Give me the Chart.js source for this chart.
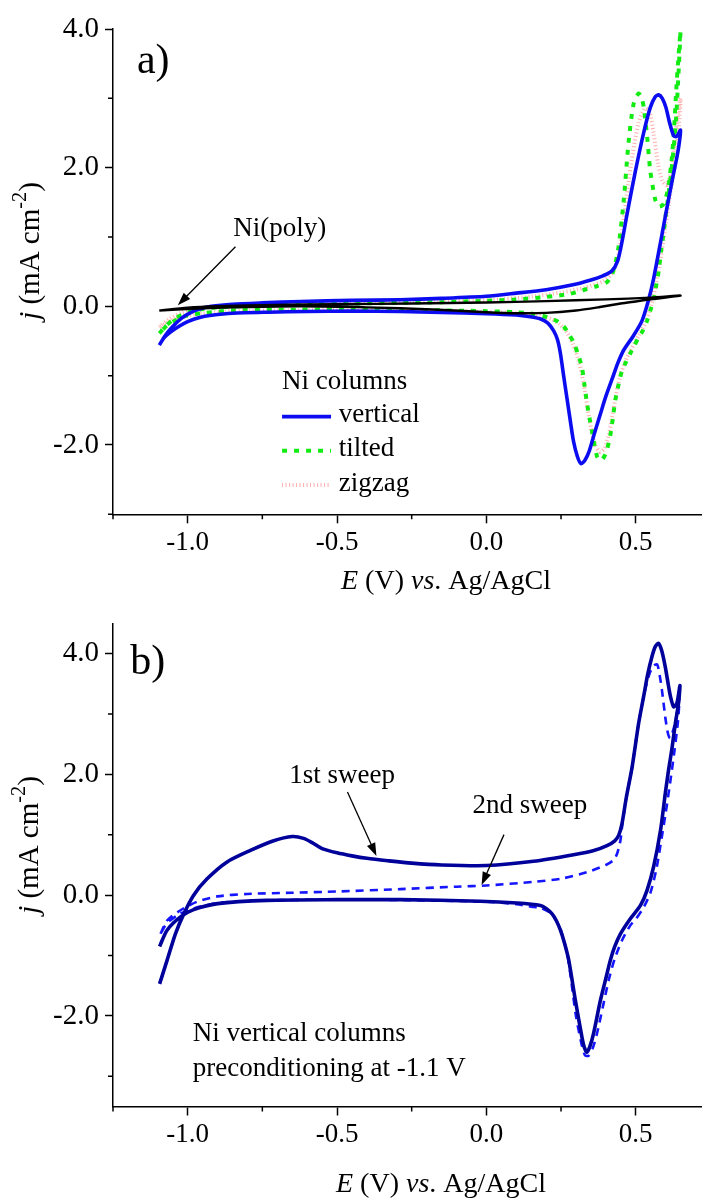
<!DOCTYPE html>
<html>
<head>
<meta charset="utf-8">
<script src="https://cdn.jsdelivr.net/npm/chart.js@4.4.1/dist/chart.umd.min.js"></script>
<style>
  html, body { margin: 0; padding: 0; background: #fff; }
  #wrap { position: relative; width: 702px; height: 1198px; }
  .panel { position: absolute; left: 0; width: 702px; }
  #panelA { top: 0; height: 600px; }
  #panelB { top: 600px; height: 598px; }
</style>
</head>
<body>
<div id="wrap">
  <div class="panel" id="panelA"><canvas id="chartA" width="702" height="600"></canvas></div>
  <div class="panel" id="panelB"><canvas id="chartB" width="702" height="598"></canvas></div>
</div>
<script>
const FONT = "'Liberation Serif', 'Times New Roman', serif";

// axis ticks (shared x, same y ticks on both panels)
const xTicks = [-1.25, -1.0, -0.75, -0.5, -0.25, 0.0, 0.25, 0.5];
const xTickLabels = ['', '-1.0', '', '-0.5', '', '0.0', '', '0.5'];
const yTicks = [-3, -2, -1, 0, 1, 2, 3, 4];
const yTickLabels = ['', '-2.0', '', '0.0', '', '2.0', '', '4.0'];

// ---- panel a) Ni columns and Ni(poly), E in V, j in mA cm-2 ----
const polyE = [-1.095,-1.0,-0.9,-0.7,-0.5,-0.25,0.0,0.2,0.4,0.55,0.65,
  0.6,0.55,0.5,0.45,0.38,0.3,0.2,0.1,0.0,-0.18,-0.4,-0.62,-0.8,-0.95,-1.095];
const polyJ = [-0.06,-0.02,0.0,0.02,0.03,0.04,0.055,0.075,0.1,0.125,0.155,
  0.125,0.1,0.07,0.04,-0.01,-0.06,-0.095,-0.1,-0.085,-0.045,-0.015,0.0,-0.01,-0.03,-0.06];

const vertE = [-1.095,-1.075,-1.05,-1.02,-0.99,-0.96,-0.92,-0.85,-0.75,-0.62,
  -0.45,-0.29,-0.15,0.0,0.1,0.2,0.29,0.35,0.39,0.42,
  0.44,0.455,0.471,0.499,0.527,0.549,0.565,0.577,0.589,0.601,
  0.614,0.627,0.637,0.650,
  0.646,0.638,0.627,0.605,0.583,0.560,0.543,0.521,0.493,0.46,
  0.44,0.426,0.40,0.382,0.36,0.345,0.33,0.317,0.305,0.292,
  0.28,0.270,0.258,0.248,0.238,0.225,0.205,0.18,0.147,0.1,
  0.0,-0.15,-0.29,-0.45,-0.6,-0.73,-0.85,-0.92,-0.96,-1.0,
  -1.03,-1.06,-1.08,-1.095];
const vertJ = [-0.56,-0.42,-0.29,-0.17,-0.09,-0.04,0.0,0.03,0.05,0.07,
  0.085,0.095,0.115,0.145,0.19,0.24,0.31,0.38,0.44,0.51,
  0.66,0.95,1.33,1.95,2.51,2.87,3.02,3.05,3.0,2.87,
  2.64,2.46,2.45,2.54,
  2.36,2.15,1.92,1.43,0.92,0.40,0.09,-0.21,-0.42,-0.63,
  -0.82,-0.99,-1.30,-1.55,-1.86,-2.08,-2.22,-2.27,-2.17,-1.95,
  -1.62,-1.33,-0.98,-0.68,-0.48,-0.35,-0.24,-0.18,-0.15,-0.125,
  -0.105,-0.09,-0.075,-0.07,-0.075,-0.085,-0.10,-0.13,-0.16,-0.22,
  -0.29,-0.38,-0.46,-0.56];

const tiltE = [-1.095,-1.07,-1.04,-1.0,-0.95,-0.88,-0.75,-0.6,-0.45,-0.29,
  -0.15,0.0,0.1,0.2,0.28,0.337,0.37,0.404,0.42,0.432,
  0.443,0.460,0.476,0.493,0.510,0.52,0.527,0.538,0.549,0.566,
  0.578,0.590,0.60,0.610,0.620,0.627,0.638,0.650,
  0.645,0.635,0.622,0.610,0.600,0.594,0.585,0.577,0.568,0.560,
  0.549,0.538,0.524,0.510,0.496,0.482,0.468,0.454,0.443,0.432,
  0.424,0.415,0.405,0.398,0.388,0.380,0.371,0.362,0.354,0.345,
  0.337,0.328,0.320,0.306,0.292,0.275,0.259,0.240,0.225,0.19,
  0.158,0.1,0.0,-0.2,-0.45,-0.7,-0.85,-0.95,-1.0,-1.04,
  -1.07,-1.095];
const tiltJ = [-0.39,-0.27,-0.17,-0.09,-0.04,-0.01,0.015,0.03,0.04,0.05,
  0.06,0.08,0.1,0.135,0.18,0.25,0.29,0.35,0.45,0.62,
  0.87,1.53,2.36,2.92,3.07,3.0,2.87,2.46,1.95,1.53,
  1.44,1.46,1.55,1.74,2.1,2.46,3.28,3.97,
  3.5,2.7,2.05,1.62,1.30,1.07,0.80,0.51,0.28,0.09,
  -0.06,-0.21,-0.35,-0.45,-0.56,-0.68,-0.80,-0.93,-1.12,-1.35,
  -1.60,-1.86,-2.05,-2.14,-2.21,-2.22,-2.17,-2.0,-1.81,-1.60,
  -1.40,-1.12,-0.88,-0.68,-0.52,-0.39,-0.29,-0.22,-0.19,-0.14,
  -0.11,-0.085,-0.07,-0.055,-0.045,-0.05,-0.06,-0.10,-0.13,-0.2,
  -0.28,-0.39];

const zigE = [-1.095,-1.06,-1.02,-0.97,-0.9,-0.75,-0.5,-0.25,0.0,0.15,
  0.25,0.33,0.39,0.425,0.44,0.455,0.47,0.49,0.51,0.53,
  0.545,0.56,0.575,0.59,0.605,0.62,0.635,0.650,
  0.645,0.632,0.615,0.598,0.58,0.565,0.552,0.535,0.51,0.485,
  0.46,0.44,0.425,0.41,0.395,0.38,0.365,0.35,0.338,0.325,
  0.31,0.29,0.27,0.245,0.22,0.18,0.1,0.0,-0.3,-0.6,
  -0.85,-0.95,-1.02,-1.06,-1.095];
const zigJ = [-0.30,-0.18,-0.09,-0.03,0.0,0.025,0.045,0.06,0.09,0.14,
  0.2,0.27,0.36,0.5,0.7,1.1,1.6,2.2,2.65,2.85,
  2.82,2.5,2.05,1.8,1.75,2.0,2.55,3.0,
  2.6,2.1,1.6,1.1,0.6,0.25,0.02,-0.22,-0.42,-0.62,
  -0.85,-1.15,-1.5,-1.85,-2.05,-2.1,-2.0,-1.75,-1.45,-1.1,
  -0.8,-0.55,-0.38,-0.26,-0.19,-0.14,-0.1,-0.08,-0.06,-0.055,
  -0.07,-0.10,-0.16,-0.22,-0.30];

// ---- panel b) vertical columns, preconditioning at -1.1 V ----
const firstE = [-1.094,-1.069,-1.041,-1.013,-0.98,-0.935,-0.868,-0.79,-0.712,-0.65,
  -0.612,-0.58,-0.55,-0.5,-0.45,-0.4,-0.33,-0.25,-0.15,0.0,
  0.158,0.292,0.36,0.404,0.43,0.443,0.454,0.468,0.488,0.51,
  0.527,0.54,0.555,0.566,0.576,0.587,0.599,0.608,0.616,0.627,
  0.638,0.648,
  0.644,0.633,0.622,0.610,0.600,0.583,0.560,0.538,0.516,0.482,
  0.449,0.43,0.415,0.40,0.382,0.359,0.347,0.337,0.328,0.320,
  0.298,0.276,0.262,0.248,0.234,0.220,0.2,0.181,0.103,-0.02,
  -0.288,-0.5,-0.734,-0.90,-0.98,-1.024,-1.069,-1.094];
const firstJ = [-1.47,-1.08,-0.64,-0.31,0.0,0.27,0.55,0.74,0.90,0.97,
  0.94,0.86,0.77,0.70,0.65,0.61,0.57,0.53,0.50,0.49,
  0.56,0.67,0.74,0.82,0.9,0.99,1.18,1.6,2.12,2.85,
  3.3,3.65,3.96,4.12,4.17,4.05,3.78,3.52,3.3,3.12,
  3.18,3.47,
  3.2,2.85,2.45,2.07,1.72,1.07,0.47,0.08,-0.17,-0.39,
  -0.64,-0.85,-1.08,-1.38,-1.74,-2.29,-2.5,-2.60,-2.52,-2.35,
  -1.74,-1.08,-0.8,-0.58,-0.42,-0.31,-0.22,-0.17,-0.13,-0.10,
  -0.075,-0.075,-0.086,-0.14,-0.24,-0.36,-0.58,-0.85];

const secondE = [-1.091,-1.069,-1.024,-0.969,-0.90,-0.8,-0.65,-0.5,-0.288,-0.1,
  0.0,0.158,0.248,0.337,0.40,0.426,0.438,0.449,0.456,0.47,
  0.488,0.51,0.527,0.545,0.56,0.572,0.58,0.588,0.599,0.607,
  0.615,0.625,0.636,0.646,
  0.642,0.63,0.615,0.6,0.587,0.57,0.55,0.527,0.5,0.482,
  0.454,0.43,0.41,0.39,0.37,0.355,0.342,0.33,0.318,0.30,
  0.285,0.272,0.258,0.245,0.228,0.21,0.18,0.15,0.1,0.0,
  -0.288,-0.5,-0.734,-0.9,-0.98,-1.03,-1.07,-1.091];
const secondJ = [-0.64,-0.42,-0.25,-0.11,-0.02,0.02,0.04,0.06,0.10,0.14,
  0.16,0.22,0.27,0.38,0.5,0.58,0.69,0.91,1.2,1.65,
  2.12,2.85,3.3,3.65,3.8,3.82,3.65,3.39,2.95,2.7,
  2.6,2.72,2.95,3.25,
  2.9,2.4,1.85,1.35,0.95,0.45,0.05,-0.2,-0.4,-0.5,
  -0.75,-1.05,-1.4,-1.85,-2.3,-2.55,-2.66,-2.65,-2.45,-2.0,
  -1.45,-1.0,-0.72,-0.52,-0.38,-0.28,-0.21,-0.19,-0.15,-0.11,
  -0.08,-0.075,-0.086,-0.13,-0.22,-0.32,-0.47,-0.64];

function pts(E, J) {
  return E.map((e, i) => ({ x: e, y: J[i] }));
}

function curve(E, J, color, width, dash) {
  return {
    data: pts(E, J),
    showLine: true,
    borderColor: color,
    borderWidth: width,
    borderDash: dash || [],
    pointRadius: 0,
    tension: 0.25,
    fill: false
  };
}

// text with italic / superscript pieces, drawn left or centered
function drawRich(ctx, parts, x, y, size, align) {
  const fontOf = p => (p.i ? 'italic ' : '') + (p.sup ? size * 0.7 : size) + 'px ' + FONT;
  let total = 0;
  parts.forEach(p => { ctx.font = fontOf(p); total += ctx.measureText(p.t).width; });
  let cx = align === 'center' ? x - total / 2 : x;
  ctx.textAlign = 'left';
  ctx.textBaseline = 'middle';
  parts.forEach(p => {
    ctx.font = fontOf(p);
    ctx.fillText(p.t, cx, p.sup ? y - size * 0.36 : y);
    cx += ctx.measureText(p.t).width;
  });
}

function drawArrow(ctx, x1, y1, x2, y2) {
  const a = Math.atan2(y2 - y1, x2 - x1);
  const hl = 13, hw = 4.5;
  ctx.lineWidth = 1.3;
  ctx.setLineDash([]);
  ctx.beginPath();
  ctx.moveTo(x1, y1);
  ctx.lineTo(x2 - Math.cos(a) * hl * 0.8, y2 - Math.sin(a) * hl * 0.8);
  ctx.stroke();
  ctx.beginPath();
  ctx.moveTo(x2, y2);
  ctx.lineTo(x2 - Math.cos(a) * hl - Math.sin(a) * hw, y2 - Math.sin(a) * hl + Math.cos(a) * hw);
  ctx.lineTo(x2 - Math.cos(a) * hl + Math.sin(a) * hw, y2 - Math.sin(a) * hl - Math.cos(a) * hw);
  ctx.closePath();
  ctx.fill();
}

function decor(cfg) {
  return {
    id: 'decor',
    afterDraw(chart) {
      const ctx = chart.ctx, xs = chart.scales.x, ys = chart.scales.y;
      const X = v => xs.getPixelForValue(v), Y = v => ys.getPixelForValue(v);
      ctx.save();
      ctx.fillStyle = '#000';
      ctx.strokeStyle = '#000';

      // short minor ticks
      ctx.lineWidth = 1.5;
      ctx.beginPath();
      xs.ticks.forEach(t => {
        if (t.label === '') { const p = X(t.value); ctx.moveTo(p, xs.top); ctx.lineTo(p, xs.top + 5); }
      });
      ys.ticks.forEach(t => {
        if (t.label === '') { const p = Y(t.value); ctx.moveTo(ys.right, p); ctx.lineTo(ys.right - 5, p); }
      });
      ctx.stroke();

      // axis titles
      drawRich(ctx, [{ t: 'E', i: true }, { t: ' (V) ' }, { t: 'vs', i: true }, { t: '. Ag/AgCl' }],
        cfg.xTitle[0], cfg.xTitle[1], 28, 'center');
      ctx.save();
      ctx.translate(cfg.yTitle[0], cfg.yTitle[1]);
      ctx.rotate(-Math.PI / 2);
      drawRich(ctx, [{ t: 'j', i: true }, { t: ' (mA cm' }, { t: '-2', sup: true }, { t: ')' }], 0, 0, 29, 'center');
      ctx.restore();

      // panel letter and notes
      cfg.notes.forEach(n => drawRich(ctx, [{ t: n.text }], X(n.x), Y(n.y), n.size || 27, 'left'));
      cfg.arrows.forEach(a => drawArrow(ctx, X(a[0]), Y(a[1]), X(a[2]), Y(a[3])));

      // legend drawn with the dataset styles
      if (cfg.legend) {
        const L = cfg.legend;
        drawRich(ctx, [{ t: L.title }], X(L.x0), Y(L.titleY), 27, 'left');
        L.rows.forEach(r => {
          const ds = chart.data.datasets[r.ds];
          ctx.save();
          ctx.strokeStyle = ds.borderColor;
          ctx.lineWidth = ds.borderWidth;
          ctx.setLineDash(ds.borderDash);
          ctx.beginPath();
          ctx.moveTo(X(L.x0), Y(r.y) + 1.5);
          ctx.lineTo(X(L.x1), Y(r.y) + 1.5);
          ctx.stroke();
          ctx.restore();
          drawRich(ctx, [{ t: r.text }], X(L.xt), Y(r.y), 27, 'left');
        });
      }
      ctx.restore();
    }
  };
}

function axisOptions(yMin, yMax, xHeight) {
  const tickColor = c => (c.tick && c.tick.label !== '' ? '#000' : 'rgba(0,0,0,0)');
  return {
    x: {
      type: 'linear', position: 'bottom', min: -1.25, max: 0.722,
      afterBuildTicks: s => { s.ticks = xTicks.map(v => ({ value: v })); },
      afterFit: s => { s.height = xHeight; },
      grid: { drawOnChartArea: false, drawTicks: true, tickLength: 9, tickWidth: 1.5, tickColor: tickColor },
      border: { display: true, color: '#000', width: 1.5 },
      ticks: {
        color: '#000', padding: 3, maxRotation: 0, autoSkip: false,
        font: { family: FONT, size: 27 },
        callback: (v, i) => xTickLabels[i]
      }
    },
    y: {
      type: 'linear', position: 'left', min: yMin, max: yMax,
      afterBuildTicks: s => { s.ticks = yTicks.map(v => ({ value: v })); },
      afterFit: s => { s.width = 113; },
      grid: { drawOnChartArea: false, drawTicks: true, tickLength: 8, tickWidth: 1.5, tickColor: tickColor },
      border: { display: true, color: '#000', width: 1.5 },
      ticks: {
        color: '#000', padding: 6, autoSkip: false,
        font: { family: FONT, size: 29 },
        callback: (v, i) => yTickLabels[i]
      }
    }
  };
}

function baseOptions(yMin, yMax, xHeight, padTop) {
  return {
    responsive: false,
    animation: false,
    layout: { padding: { top: padTop, left: 0, right: 0, bottom: 0 } },
    plugins: { legend: { display: false }, tooltip: { enabled: false } },
    scales: axisOptions(yMin, yMax, xHeight)
  };
}

Chart.defaults.font.family = FONT;

new Chart(document.getElementById('chartA'), {
  type: 'scatter',
  data: {
    datasets: [
      curve(polyE, polyJ, '#000000', 2.4),
      curve(vertE, vertJ, '#0c0cf0', 3.6),
      curve(tiltE, tiltJ, '#13ec13', 4, [5, 7]),
      curve(zigE, zigJ, 'rgba(255,120,120,0.6)', 4, [1, 2.5])
    ]
  },
  options: baseOptions(-3, 4, 85.7, 29),
  plugins: [decor({
    xTitle: [446, 582],
    yTitle: [31, 251],
    notes: [
      { text: 'a)', x: -1.17, y: 3.52, size: 42 },
      { text: 'Ni(poly)', x: -0.847, y: 1.12 }
    ],
    arrows: [[-0.84, 0.86, -1.033, 0.017]],
    legend: {
      title: 'Ni columns', titleY: -1.093, x0: -0.684, x1: -0.52, xt: -0.494,
      rows: [
        { text: 'vertical', ds: 1, y: -1.569 },
        { text: 'tilted', ds: 2, y: -2.06 },
        { text: 'zigzag', ds: 3, y: -2.557 }
      ]
    }
  })]
});

new Chart(document.getElementById('chartB'), {
  type: 'scatter',
  data: {
    datasets: [
      curve(firstE, firstJ, '#00009a', 3.6),
      curve(secondE, secondJ, '#1515ff', 2.6, [8, 6])
    ]
  },
  options: baseOptions(-3.5, 4.5, 91.5, 23.3),
  plugins: [decor({
    xTitle: [441, 585],
    yTitle: [30, 245],
    notes: [
      { text: 'b)', x: -1.192, y: 3.84, size: 42 },
      { text: '1st sweep', x: -0.66, y: 1.967 },
      { text: '2nd sweep', x: -0.046, y: 1.47 },
      { text: 'Ni vertical columns', x: -0.983, y: -2.305 },
      { text: 'preconditioning at -1.1 V', x: -0.983, y: -2.884 }
    ],
    arrows: [[-0.465, 1.709, -0.368, 0.649], [0.059, 1.002, -0.016, 0.167]]
  })]
});
</script>
</body>
</html>
